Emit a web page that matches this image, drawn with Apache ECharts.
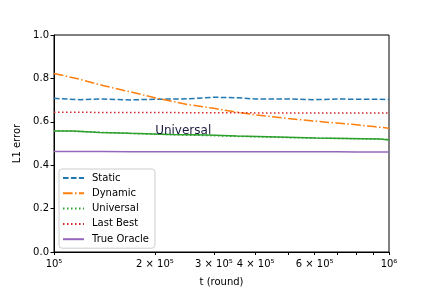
<!DOCTYPE html>
<html><head><meta charset="utf-8">
<script src="https://cdn.jsdelivr.net/npm/echarts@6/dist/echarts.min.js"></script>
<style>html,body{margin:0;padding:0;background:#fff}#c{width:432px;height:288px}</style>
</head><body><div id="c"></div>
<script>
const tRounds = [100000, 120000, 140000, 170000, 200000, 250000, 300000, 350000, 400000, 500000, 600000, 700000, 800000, 900000, 1000000];
const staticErr = [0.708, 0.702, 0.705, 0.701, 0.704, 0.706, 0.713, 0.711, 0.705, 0.705, 0.702, 0.705, 0.704, 0.704, 0.703];
const dynamicErr = [0.823, 0.795, 0.767, 0.737, 0.711, 0.680, 0.662, 0.645, 0.632, 0.615, 0.603, 0.594, 0.586, 0.578, 0.570];
const universalErr = [0.559, 0.555, 0.551, 0.546, 0.543, 0.539, 0.536, 0.533, 0.531, 0.527, 0.525, 0.523, 0.522, 0.520, 0.519];
const lastBestErr = [0.644, 0.644, 0.643, 0.643, 0.643, 0.642, 0.642, 0.642, 0.641, 0.641, 0.641, 0.640, 0.640, 0.640, 0.640];
const oracleErr = [0.463, 0.463, 0.463, 0.462, 0.462, 0.462, 0.462, 0.462, 0.462, 0.462, 0.462, 0.462, 0.461, 0.461, 0.461];
const universalStepT = [100000, 114000, 137000, 169000, 222000, 288000, 352000, 466000, 605000, 940000, 1000000];
const universalStepErr = [0.558, 0.551, 0.547, 0.542, 0.539, 0.535, 0.530, 0.525, 0.521, 0.516, 0.516];
const xLabelVals = [100000, 200000, 300000, 400000, 600000, 1000000];
const xLabelText = ['10⁵', '2 × 10⁵', '3 × 10⁵', '4 × 10⁵', '6 × 10⁵', '10⁶'];
const xTickVals = [100000, 200000, 300000, 400000, 500000, 600000, 700000, 800000, 900000, 1000000];
const annotText = 'Universal';
const annotPos = [243000, 0.560];

const zip = (xs, ys) => xs.map((x, i) => [x, ys[i]]);
const font = 'DejaVu Sans';
const chart = echarts.init(document.getElementById('c'));
function line(name, data, color, type, extra) {
  return Object.assign({
    name, type: 'line', data, symbol: 'none', showSymbol: false, animation: false,
    lineStyle: { color, width: 1.5, type }, itemStyle: { color }
  }, extra || {});
}
chart.setOption({
  animation: false,
  textStyle: { fontFamily: font },
  grid: { left: 54, right: 43, top: 35, bottom: 36, show: true, borderColor: '#000', borderWidth: 1,
    containLabel: false, outerBoundsMode: 'none' },
  xAxis: {
    type: 'log', logBase: 10, min: 100000, max: 1000000,
    name: 't (round)', nameLocation: 'middle', nameGap: 25,
    nameTextStyle: { fontSize: 10, color: '#000', fontFamily: font },
    axisLine: { show: true, lineStyle: { color: '#000', width: 1 } },
    axisTick: { show: true, length: 3, lineStyle: { color: '#000' }, customValues: xTickVals },
    axisLabel: { fontSize: 10, color: '#000', fontFamily: font, margin: 7,
      customValues: xLabelVals,
      formatter: v => { const i = xLabelVals.findIndex(x => Math.abs(x - v) < 1); return i >= 0 ? xLabelText[i] : ''; } },
    splitLine: { show: false }
  },
  yAxis: {
    type: 'value', min: 0, max: 1, interval: 0.2,
    name: 'L1 error', nameLocation: 'middle', nameGap: 24,
    nameTextStyle: { fontSize: 10, color: '#000', fontFamily: font },
    axisLine: { show: true, lineStyle: { color: '#000', width: 1 } },
    axisTick: { show: true, length: 3.5, lineStyle: { color: '#000' } },
    axisLabel: { fontSize: 10, color: '#000', fontFamily: font, margin: 5, formatter: v => v.toFixed(1) },
    splitLine: { show: false }
  },
  legend: {
    orient: 'vertical', left: 59, top: 169,
    data: ['Static', 'Dynamic', 'Universal', 'Last Best', 'True Oracle'],
    backgroundColor: 'rgba(255,255,255,0.8)', borderColor: '#ccc', borderWidth: 1, borderRadius: 3,
    padding: [4, 6, 4, 3], itemWidth: 21, itemHeight: 10, itemGap: 5.3,
    itemStyle: { opacity: 0 },
    textStyle: { fontSize: 10, color: '#000', fontFamily: font, padding: [0, 0, 0, 3] }
  },
  series: [
    line('Static', zip(tRounds, staticErr), '#1f77b4', [5.55, 2.4]),
    line('Dynamic', zip(tRounds, dynamicErr), '#ff7f0e', [9.6, 2.4, 1.5, 2.4]),
    line('Universal', zip(tRounds, universalErr), '#2ca02c', [1.5, 2.5]),
    line('Last Best', zip(tRounds, lastBestErr), '#d62728', [1.5, 2.5]),
    line('True Oracle', zip(tRounds, oracleErr), '#9467bd', 'solid'),
    line('', zip(universalStepT, universalStepErr), '#2ca02c', 'solid', {
      step: 'end', z: 1,
      markPoint: { symbol: 'circle', symbolSize: 0, silent: true, animation: false,
        data: [{ coord: annotPos, label: { show: true, formatter: annotText, position: 'inside',
          fontSize: 12, color: '#1a1a40', fontFamily: font } }] }
    })
  ]
});
</script></body></html>
